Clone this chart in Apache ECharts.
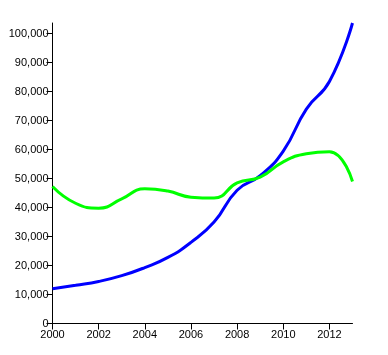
<!DOCTYPE html>
<html><head><meta charset="utf-8">
<script src="https://cdn.jsdelivr.net/npm/echarts@6/dist/echarts.min.js"></script>
<style>html,body{margin:0;padding:0;background:#fff}#c{width:388px;height:355px}</style>
</head><body><div id="c"></div>
<script>
const years = [2000,2001,2002,2003,2004,2005,2006,2007,2008,2009,2010,2011,2012,2013];
const blueValues = [12000,13200,14500,16500,19300,22800,28000,35000,46000,51000,59500,74000,83500,103700];
const greenValues = [47300,41500,39800,43000,46500,45700,43600,43300,48500,50500,55800,58600,59300,49000];
const yTicks = [0,10000,20000,30000,40000,50000,60000,70000,80000,90000,100000];
const xTicks = [2000,2002,2004,2006,2008,2010,2012];

const chart = echarts.init(document.getElementById('c'), null, {renderer:'canvas'});
const axisCommon = {
  axisLine:{show:true,lineStyle:{color:'#000',width:1}},
  axisTick:{show:true,length:6,inside:false,lineStyle:{color:'#000',width:1}},
  splitLine:{show:false},
};
chart.setOption({
  animation:false,
  grid:{left:52.5,right:35.5,top:23,bottom:31.5,containLabel:false},
  xAxis:Object.assign({
    type:'value',min:2000,max:2013,interval:2,
    axisLabel:{show:true,showMaxLabel:false,color:'#000',fontSize:11,fontFamily:'Liberation Sans, Arial, sans-serif',margin:6,
      formatter:v=>xTicks.includes(v)?String(v):''}
  },axisCommon),
  yAxis:Object.assign({
    type:'value',min:0,max:Math.max(...blueValues),interval:10000,
    axisLabel:{show:true,showMaxLabel:false,color:'#000',fontSize:11,fontFamily:'Liberation Sans, Arial, sans-serif',margin:4,
      formatter:v=>yTicks.includes(v)?v.toLocaleString('en-US'):''}
  },axisCommon),
  series:[
    {type:'line',data:years.map((y,i)=>[y,blueValues[i]]),smooth:0.5,showSymbol:false,
      lineStyle:{color:'#0000ff',width:3},itemStyle:{color:'#0000ff'}},
    {type:'line',data:years.map((y,i)=>[y,greenValues[i]]),smooth:0.5,showSymbol:false,
      lineStyle:{color:'#00ff00',width:3},itemStyle:{color:'#00ff00'}}
  ]
});
</script></body></html>
